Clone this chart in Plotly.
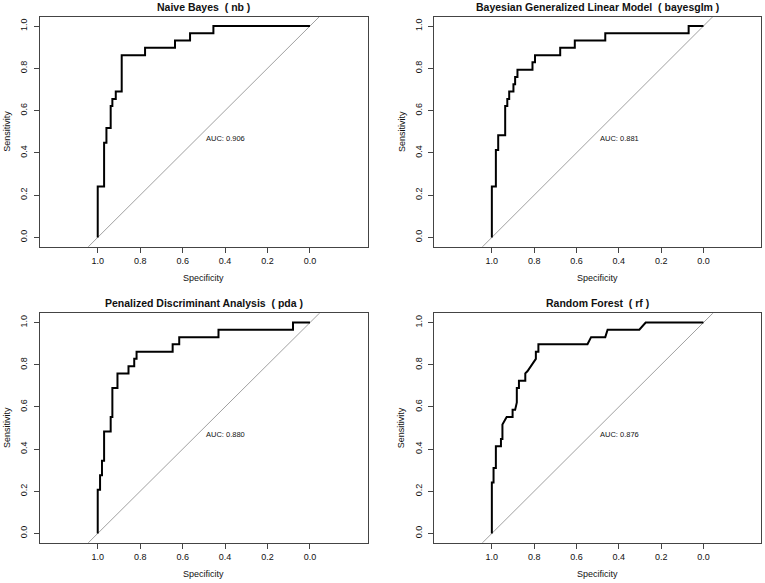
import plotly.graph_objects as go

# ROC curves (specificity, sensitivity)
nb_spec = [1.0, 1.0, 0.970, 0.970, 0.959, 0.959, 0.939, 0.939, 0.931, 0.931, 0.915, 0.915,
           0.887, 0.887, 0.777, 0.777, 0.636, 0.636, 0.565, 0.565, 0.455, 0.455, 0.0]
nb_sens = [0.0, 0.241, 0.241, 0.448, 0.448, 0.517, 0.517, 0.621, 0.621, 0.655, 0.655, 0.690,
           0.690, 0.862, 0.862, 0.897, 0.897, 0.931, 0.931, 0.966, 0.966, 1.0, 1.0]

glm_spec = [1.0, 1.0, 0.981, 0.981, 0.970, 0.970, 0.937, 0.937, 0.927, 0.927, 0.918, 0.918,
            0.898, 0.898, 0.890, 0.890, 0.879, 0.879, 0.808, 0.808, 0.796, 0.796, 0.677, 0.677,
            0.608, 0.608, 0.464, 0.464, 0.070, 0.070, 0.0]
glm_sens = [0.0, 0.241, 0.241, 0.414, 0.414, 0.483, 0.483, 0.621, 0.621, 0.655, 0.655, 0.690,
            0.690, 0.724, 0.724, 0.759, 0.759, 0.793, 0.793, 0.828, 0.828, 0.862, 0.862, 0.897,
            0.897, 0.931, 0.931, 0.966, 0.966, 1.0, 1.0]

pda_spec = [1.0, 1.0, 0.989, 0.989, 0.980, 0.980, 0.970, 0.970, 0.939, 0.939, 0.931, 0.931,
            0.907, 0.907, 0.855, 0.855, 0.828, 0.828, 0.817, 0.817, 0.647, 0.647, 0.616, 0.616,
            0.431, 0.431, 0.080, 0.080, 0.0]
pda_sens = [0.0, 0.207, 0.207, 0.276, 0.276, 0.345, 0.345, 0.483, 0.483, 0.552, 0.552, 0.690,
            0.690, 0.759, 0.759, 0.793, 0.793, 0.828, 0.828, 0.862, 0.862, 0.897, 0.897, 0.931,
            0.931, 0.966, 0.966, 1.0, 1.0]

rf_spec = [1.0, 1.0, 0.992, 0.992, 0.981, 0.981, 0.957, 0.957, 0.950, 0.950, 0.930, 0.902,
           0.902, 0.890, 0.882, 0.882, 0.872, 0.872, 0.842, 0.842, 0.832, 0.792, 0.792, 0.780,
           0.780, 0.548, 0.531, 0.464, 0.453, 0.303, 0.273, 0.0]
rf_sens = [0.0, 0.241, 0.241, 0.310, 0.310, 0.414, 0.414, 0.448, 0.448, 0.517, 0.552, 0.552,
           0.586, 0.586, 0.621, 0.690, 0.690, 0.724, 0.724, 0.759, 0.769, 0.828, 0.862, 0.862,
           0.897, 0.897, 0.931, 0.931, 0.966, 0.966, 1.0, 1.0]

titles = ["Naive Bayes \u00a0( nb )",
          "Bayesian Generalized Linear Model \u00a0( bayesglm )",
          "Penalized Discriminant Analysis \u00a0( pda )",
          "Random Forest \u00a0( rf )"]
aucs = ["0.906", "0.881", "0.880", "0.876"]
curves = [(nb_spec, nb_sens), (glm_spec, glm_sens), (pda_spec, pda_sens), (rf_spec, rf_sens)]
tick_vals = [0.0, 0.2, 0.4, 0.6, 0.8, 1.0]
tick_text = ["0.0", "0.2", "0.4", "0.6", "0.8", "1.0"]

W, H = 765, 583
# plot boxes in pixels: (left, right, top, bottom)
boxes = [(40, 367.7, 16.7, 246.7), (434.3, 761, 16.7, 246.7),
         (40, 367.7, 313.3, 542.7), (434.3, 761, 313.3, 542.7)]

FONT = "Liberation Sans, Arial, sans-serif"
INK = "#111111"

fig = go.Figure()
layout = dict(width=W, height=H, margin=dict(l=0, r=0, t=0, b=0, autoexpand=False),
              paper_bgcolor="white", plot_bgcolor="white", showlegend=False,
              font=dict(family=FONT, color=INK))
annotations = []

diag_spec = [1.3, -0.3]
diag_sens = [1 - s for s in diag_spec]

for i, ((spec, sens), title, auc, box) in enumerate(zip(curves, titles, aucs, boxes)):
    n = "" if i == 0 else str(i + 1)
    xa, ya = "x" + n, "y" + n
    l, r, t, b = box
    fig.add_trace(go.Scatter(x=diag_spec, y=diag_sens, mode="lines", xaxis=xa, yaxis=ya,
                             line=dict(color="#a0a0a0", width=1), hoverinfo="skip"))
    fig.add_trace(go.Scatter(x=spec, y=sens, mode="lines", xaxis=xa, yaxis=ya,
                             line=dict(color="black", width=2)))
    axis_common = dict(showgrid=False, zeroline=False, showline=True, mirror=True,
                       linecolor="#444444", linewidth=1, ticks="outside", ticklen=5,
                       tickcolor="#444444", tickvals=tick_vals, ticktext=tick_text,
                       tickfont=dict(size=9, family=FONT, color=INK), automargin=False)
    layout["xaxis" + n] = dict(axis_common, domain=[l / W, r / W], range=[1.272, -0.272],
                               anchor=ya)
    layout["yaxis" + n] = dict(axis_common, domain=[1 - b / H, 1 - t / H], range=[-0.044, 1.044],
                               anchor=xa, tickangle=-90, ticklabelstandoff=3)
    cx = (l + r) / 2 / W
    annotations.append(dict(text="<b>" + title + "</b>", x=cx, y=1 - (t - 10) / H,
                            xref="paper", yref="paper", showarrow=False,
                            xanchor="center", yanchor="middle",
                            font=dict(size=10.5, family=FONT, color=INK)))
    annotations.append(dict(text="Specificity", x=cx, y=1 - (b + 31.5) / H,
                            xref="paper", yref="paper", showarrow=False,
                            xanchor="center", yanchor="middle",
                            font=dict(size=9, family=FONT, color=INK)))
    annotations.append(dict(text="Sensitivity", x=(l - 33) / W, y=1 - (t + b) / 2 / H,
                            xref="paper", yref="paper", showarrow=False, textangle=-90,
                            xanchor="center", yanchor="middle",
                            font=dict(size=9, family=FONT, color=INK)))
    annotations.append(dict(text="AUC: " + auc, x=0.5, y=0.5, xref=xa, yref=ya,
                            xanchor="left", yanchor="top", showarrow=False,
                            font=dict(size=7.5, family=FONT, color=INK)))

layout["annotations"] = annotations
fig.update_layout(**layout)
# drop the browser's default 8px body margin so the figure fills the window exactly
fig.write_html("out.html", config={"displayModeBar": False},
               post_script="document.body.style.margin='0';")
